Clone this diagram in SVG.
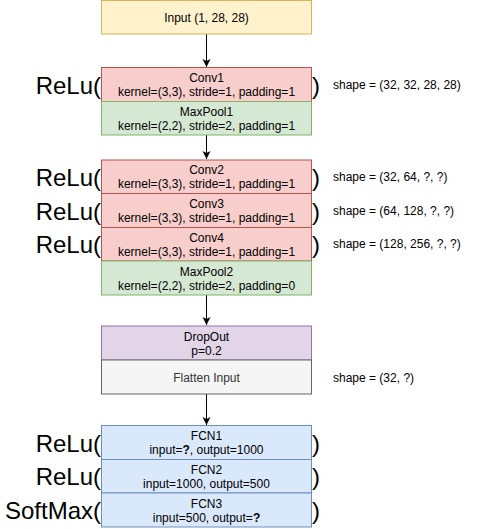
<svg xmlns="http://www.w3.org/2000/svg" width="481" height="529" viewBox="0 0 481 529">
<style>
text{font-family:"Liberation Sans",Arial,sans-serif;}
.t{font-size:12px;fill:#000;text-anchor:middle;}
.big{font-size:24px;fill:#000;}
.sh{font-size:12px;fill:#000;}
.yellow{fill:#fff2cc;stroke:#d6b656;}
.red{fill:#f8cecc;stroke:#b85450;}
.green{fill:#d5e8d4;stroke:#82b366;}
.purple{fill:#e1d5e7;stroke:#9673a6;}
.grey{fill:#f5f5f5;stroke:#666666;}
.blue{fill:#dae8fc;stroke:#6c8ebf;}
.edge{stroke:#000;stroke-width:1;fill:none;}
</style>
<defs>
<marker id="arr" markerWidth="10" markerHeight="10" refX="9" refY="5" orient="auto" markerUnits="userSpaceOnUse">
<path d="M1,1 L9,5 L1,9 L3,5 Z" fill="#000"/>
</marker>
</defs>
<g id="connectors">
<line class="edge" x1="206.5" y1="34" x2="206.5" y2="67" marker-end="url(#arr)"/>
<line class="edge" x1="206.5" y1="135" x2="206.5" y2="159" marker-end="url(#arr)"/>
<line class="edge" x1="206.5" y1="295" x2="206.5" y2="325" marker-end="url(#arr)"/>
<line class="edge" x1="206.5" y1="394" x2="206.5" y2="425" marker-end="url(#arr)"/>
</g>
<g id="input"><rect class="yellow" x="101.5" y="0.5" width="210" height="33.5"/><text class="t" x="206.5" y="21.5">Input (1, 28, 28)</text></g>
<g id="conv1"><rect class="red" x="101.5" y="67.5" width="210" height="34"/><text class="t" x="206.5" y="81.5">Conv1</text><text class="t" x="206.5" y="95.5">kernel=(3,3), stride=1, padding=1</text></g>
<g id="maxpool1"><rect class="green" x="101.5" y="101.5" width="210" height="33.5"/><text class="t" x="206.5" y="115.5">MaxPool1</text><text class="t" x="206.5" y="129.5">kernel=(2,2), stride=2, padding=1</text></g>
<g id="conv2"><rect class="red" x="101.5" y="160" width="210" height="33.5"/><text class="t" x="206.5" y="174">Conv2</text><text class="t" x="206.5" y="188">kernel=(3,3), stride=1, padding=1</text></g>
<g id="conv3"><rect class="red" x="101.5" y="193.5" width="210" height="34"/><text class="t" x="206.5" y="208">Conv3</text><text class="t" x="206.5" y="222">kernel=(3,3), stride=1, padding=1</text></g>
<g id="conv4"><rect class="red" x="101.5" y="227.5" width="210" height="33.5"/><text class="t" x="206.5" y="241.5">Conv4</text><text class="t" x="206.5" y="255.5">kernel=(3,3), stride=1, padding=1</text></g>
<g id="maxpool2"><rect class="green" x="101.5" y="261" width="210" height="34"/><text class="t" x="206.5" y="275.5">MaxPool2</text><text class="t" x="206.5" y="289.5">kernel=(2,2), stride=2, padding=0</text></g>
<g id="dropout"><rect class="purple" x="101.5" y="326" width="210" height="34"/><text class="t" x="206.5" y="340.5">DropOut</text><text class="t" x="206.5" y="354.5">p=0.2</text></g>
<g id="flatten"><rect class="grey" x="101.5" y="360" width="210" height="34"/><text class="t" x="206.5" y="381.5" style="fill:#333333">Flatten Input</text></g>
<g id="fcn1"><rect class="blue" x="101.5" y="425.5" width="210" height="34"/><text class="t" x="206.5" y="440">FCN1</text><text class="t" x="206.5" y="454">input=<tspan font-weight="bold">?</tspan>, output=1000</text></g>
<g id="fcn2"><rect class="blue" x="101.5" y="459.5" width="210" height="33.5"/><text class="t" x="206.5" y="473.5">FCN2</text><text class="t" x="206.5" y="487.5">input=1000, output=500</text></g>
<g id="fcn3"><rect class="blue" x="101.5" y="493" width="210" height="34"/><text class="t" x="206.5" y="507.5">FCN3</text><text class="t" x="206.5" y="521.5">input=500, output=<tspan font-weight="bold">?</tspan></text></g>
<g id="activations">
<text class="big" x="101" y="94" text-anchor="end">ReLu(</text><text class="big" x="312" y="94">)</text>
<text class="big" x="101" y="186" text-anchor="end">ReLu(</text><text class="big" x="312" y="186">)</text>
<text class="big" x="101" y="220" text-anchor="end">ReLu(</text><text class="big" x="312" y="220">)</text>
<text class="big" x="101" y="253" text-anchor="end">ReLu(</text><text class="big" x="312" y="253">)</text>
<text class="big" x="101" y="452" text-anchor="end">ReLu(</text><text class="big" x="312" y="452">)</text>
<text class="big" x="101" y="485" text-anchor="end">ReLu(</text><text class="big" x="312" y="485">)</text>
<text class="big" x="101" y="519" text-anchor="end">SoftMax(</text><text class="big" x="312" y="519">)</text>
</g>
<g id="shapes">
<text class="sh" x="333" y="89">shape = (32, 32, 28, 28)</text>
<text class="sh" x="333" y="180.5">shape = (32, 64, ?, ?)</text>
<text class="sh" x="333" y="214.5">shape = (64, 128, ?, ?)</text>
<text class="sh" x="333" y="248">shape = (128, 256, ?, ?)</text>
<text class="sh" x="333" y="381.5">shape = (32, ?)</text>
</g>
</svg>
